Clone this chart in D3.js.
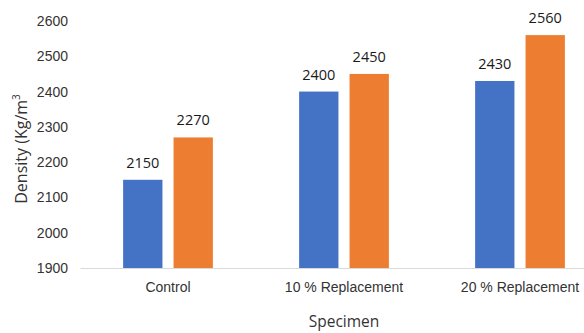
<!DOCTYPE html>
<html>
<head>
<meta charset="utf-8">
<script src="https://cdn.jsdelivr.net/npm/d3@7"></script>
<style>
  body { margin: 0; background: #fff; }
  svg { display: block; font-family: "Open Sans", sans-serif; }
</style>
</head>
<body>
<div id="chart"></div>
<script>
'use strict';

// Data
const categories = ['Control', '10 % Replacement', '20 % Replacement'];
const seriesA = [2150, 2400, 2430];
const seriesB = [2270, 2450, 2560];
const yTicks = [1900, 2000, 2100, 2200, 2300, 2400, 2500, 2600];

// Configs
const svgW = 584, svgH = 333;
const plot = {left: 80, right: 608, top: 21, bottom: 268};
const colors = ['#4472C4', '#ED7D31'];
const textColor = '#333';

const svg = d3.select('#chart').append('svg')
    .attr('width', svgW)
    .attr('height', svgH);

// Scales
const xScale = d3.scaleBand()
    .domain(categories)
    .range([plot.left, plot.right])
    .paddingInner(0.49)
    .paddingOuter(0.245);
const subScale = d3.scaleBand()
    .domain([0, 1])
    .range([0, xScale.bandwidth()])
    .paddingInner(0.22);
const yScale = d3.scaleLinear()
    .domain([1900, 2600])
    .range([plot.bottom, plot.top]);

// Y axis labels (no line)
const yAxis = d3.axisLeft(yScale)
    .tickValues(yTicks)
    .tickFormat(d3.format('d'))
    .tickSize(0)
    .tickPadding(12);
const yAxisG = svg.append('g')
    .attr('transform', `translate(${plot.left},0)`)
    .call(yAxis);
yAxisG.select('.domain').remove();
yAxisG.selectAll('text')
    .attr('fill', textColor)
    .style('font-size', '14px');

// Bars
const rows = categories.map((c, i) => ({cat: c, vals: [seriesA[i], seriesB[i]]}));
const groups = svg.append('g').selectAll('g')
    .data(rows)
    .join('g')
    .attr('transform', d => `translate(${xScale(d.cat)},0)`);

groups.selectAll('rect')
    .data(d => d.vals.map((v, k) => ({k, v})))
    .join('rect')
    .attr('x', d => subScale(d.k))
    .attr('width', subScale.bandwidth())
    .attr('y', d => yScale(d.v))
    .attr('height', d => yScale(1900) - yScale(d.v))
    .attr('fill', d => colors[d.k]);

groups.selectAll('text')
    .data(d => d.vals.map((v, k) => ({k, v})))
    .join('text')
    .attr('x', d => subScale(d.k) + subScale.bandwidth() / 2)
    .attr('y', d => yScale(d.v) - 12)
    .attr('text-anchor', 'middle')
    .attr('fill', '#1a1a1a')
    .style('font-size', '14.5px')
    .text(d => d.v);

// X axis
const xAxis = d3.axisBottom(xScale).tickSize(0).tickPadding(14);
const xAxisG = svg.append('g')
    .attr('transform', `translate(0,${plot.bottom})`)
    .call(xAxis);
xAxisG.select('.domain')
    .attr('stroke', '#d9d9d9')
    .attr('stroke-width', 1);
xAxisG.selectAll('text')
    .attr('fill', textColor)
    .style('font-size', '14px');

// Axis titles
svg.append('text')
    .attr('x', 344)
    .attr('y', 327)
    .attr('text-anchor', 'middle')
    .attr('fill', textColor)
    .style('font-size', '15.5px')
    .text('Specimen');

const yTitle = svg.append('text')
    .attr('transform', `translate(27,149) rotate(-90)`)
    .attr('text-anchor', 'middle')
    .attr('fill', textColor)
    .style('font-size', '16px');
yTitle.append('tspan').text('Density (Kg/m');
yTitle.append('tspan').attr('dy', -7).style('font-size', '10px').text('3');
</script>
</body>
</html>
